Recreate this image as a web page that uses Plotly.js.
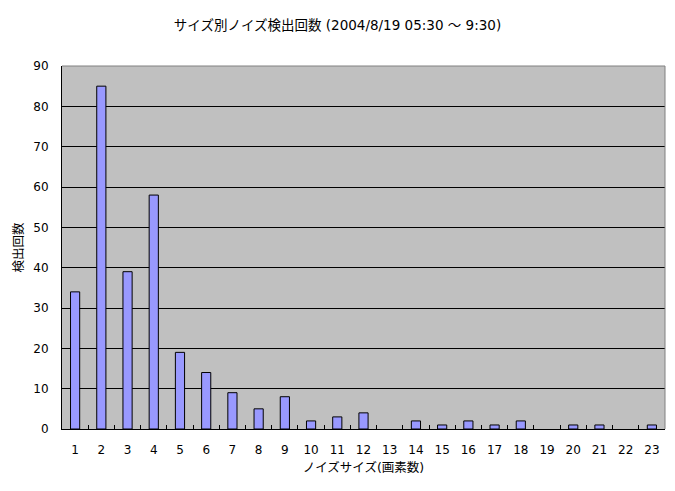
<!DOCTYPE html>
<html>
<head>
<meta charset="utf-8">
<script src="https://cdn.plot.ly/plotly-3.0.1.min.js"></script>
<style>html,body{margin:0;padding:0;background:#fff}#chart{width:675px;height:491px}</style>
</head>
<body>
<div id="chart"></div>
<script>
const sizes = ['1','2','3','4','5','6','7','8','9','10','11','12','13','14','15','16','17','18','19','20','21','22','23'];
const counts = [34,85,39,58,19,14,9,5,8,2,3,4,0,2,1,2,1,2,0,1,1,0,1];
const yTicks = [0,10,20,30,40,50,60,70,80,90];

const font = 'DejaVu Sans, Noto Sans CJK JP, sans-serif';
const trace = {
  type: 'bar',
  x: sizes,
  y: counts,
  marker: {color: '#9999FF', line: {color: '#000000', width: counts.map(v => v > 0 ? 1 : 0)}},
  hoverinfo: 'x+y'
};
const layout = {
  width: 675, height: 491,
  margin: {l: 62, r: 10, t: 66, b: 62},
  paper_bgcolor: '#FFFFFF',
  plot_bgcolor: '#C0C0C0',
  font: {family: font, size: 12, color: '#000'},
  bargap: 0.65,
  showlegend: false,
  title: {text: 'サイズ別ノイズ検出回数 (2004/8/19 05:30 〜 9:30)', x: 0.5, xref: 'container', xanchor: 'center', y: 0.958, yref: 'container', font: {family: font, size: 13.5, color: '#000'}},
  xaxis: {
    type: 'category',
    tickson: 'boundaries',
    ticks: 'inside', ticklen: 4, tickcolor: '#000', tickwidth: 1,
    showline: true, linecolor: '#000', linewidth: 1,
    showgrid: false,
    ticklabelstandoff: 10,
    tickfont: {family: font, size: 12, color: '#000'},
    title: {text: 'ノイズサイズ(画素数)', font: {family: font, size: 12.5, color: '#000'}, standoff: 6}
  },
  yaxis: {
    range: [0, 90],
    tickvals: yTicks,
    ticks: '',
    showline: true, linecolor: '#000', linewidth: 1,
    showgrid: true, gridcolor: '#000', gridwidth: 1,
    zeroline: false,
    ticklabelstandoff: 10,
    tickfont: {family: font, size: 12, color: '#000'},
    title: {text: '検出回数', font: {family: font, size: 12.5, color: '#000'}, standoff: 6}
  },
  shapes: [
    {type: 'line', xref: 'paper', yref: 'paper', x0: 0, x1: 1, y0: 1, y1: 1, line: {color: '#808080', width: 1}, layer: 'above'},
    {type: 'line', xref: 'paper', yref: 'paper', x0: 1, x1: 1, y0: 0, y1: 1, line: {color: '#808080', width: 1}, layer: 'above'}
  ]
};
Plotly.newPlot('chart', [trace], layout, {displayModeBar: false, staticPlot: true});
</script>
</body>
</html>
